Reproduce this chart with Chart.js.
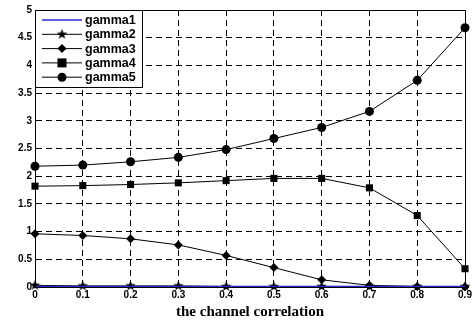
<!DOCTYPE html>
<html>
<head>
<meta charset="utf-8">
<script src="https://cdn.jsdelivr.net/npm/chart.js@4/dist/chart.umd.min.js"></script>
<style>
  html, body { margin: 0; padding: 0; background: #fff; }
  #wrap { width: 475px; height: 322px; }
</style>
</head>
<body>
<div id="wrap"><canvas id="chart" width="475" height="322"></canvas></div>
<script>
// channel correlation values on the x axis
const correlation = [0, 0.1, 0.2, 0.3, 0.4, 0.5, 0.6, 0.7, 0.8, 0.9];

// series
const gamma1 = [0.01, 0.01, 0.01, 0.01, 0.01, 0.01, 0.01, 0.01, 0.01, 0.01];
const gamma2 = [0.03, 0.02, 0.02, 0.02, 0.01, 0.01, 0.01, 0.01, 0.01, 0.01];
const gamma3 = [0.96, 0.93, 0.87, 0.76, 0.57, 0.35, 0.13, 0.03, 0.01, 0.0];
const gamma4 = [1.82, 1.83, 1.85, 1.88, 1.92, 1.96, 1.96, 1.79, 1.29, 0.33];
const gamma5 = [2.18, 2.2, 2.26, 2.34, 2.48, 2.68, 2.88, 3.17, 3.73, 4.68];

const seriesNames = ['gamma1', 'gamma2', 'gamma3', 'gamma4', 'gamma5'];

// filled five point star, used as a point style
function makeStar(size) {
    const c = document.createElement('canvas');
    c.width = size; c.height = size;
    const g = c.getContext('2d');
    const cx = size / 2, cy = size / 2, R = size / 2, r = R * 0.42;
    g.beginPath();
    for (let i = 0; i < 10; i++) {
        const rad = i % 2 === 0 ? R : r;
        const a = -Math.PI / 2 + i * Math.PI / 5;
        g.lineTo(cx + rad * Math.cos(a), cy + rad * Math.sin(a));
    }
    g.closePath();
    g.fillStyle = '#000';
    g.fill();
    return c;
}
const star = makeStar(11);

function pts(values) {
    return values.map((v, i) => ({ x: correlation[i], y: v }));
}

const styles = [
    { color: '#2b2bd6', pointStyle: false, radius: 0, width: 1.5 },
    { color: '#000', pointStyle: star, radius: 5, width: 1 },
    { color: '#000', pointStyle: 'rectRot', radius: 4.5, width: 1 },
    { color: '#000', pointStyle: 'rect', radius: 5, width: 1 },
    { color: '#000', pointStyle: 'circle', radius: 4.5, width: 1 }
];
const allSeries = [gamma1, gamma2, gamma3, gamma4, gamma5];

// gamma1 is drawn on top like in the figure
const datasets = allSeries.map((s, i) => ({
    label: seriesNames[i],
    data: pts(s),
    borderColor: styles[i].color,
    backgroundColor: styles[i].color,
    borderWidth: styles[i].width,
    pointStyle: styles[i].pointStyle,
    pointRadius: styles[i].radius,
    pointBorderWidth: 0,
    order: i === 0 ? 0 : 5 - i,
    clip: false
}));

const tickFont = { family: '"Liberation Sans", Arial, sans-serif', size: 10, weight: 'bold' };

// box around the plot and the legend in the upper left corner
const boxAndLegend = {
    id: 'boxAndLegend',
    afterDraw(chart) {
        const { ctx, chartArea: a } = chart;
        ctx.save();
        ctx.strokeStyle = '#000';
        ctx.lineWidth = 1;
        ctx.setLineDash([]);
        ctx.strokeRect(a.left + 0.5, a.top + 0.5, a.right - a.left, a.bottom - a.top);

        const lx = a.left, ly = a.top, lw = 107, lh = 77;
        ctx.fillStyle = '#fff';
        ctx.fillRect(lx, ly, lw, lh);
        ctx.strokeRect(lx + 0.5, ly + 0.5, lw, lh);
        ctx.font = 'bold 12.5px "Liberation Sans", Arial, sans-serif';
        ctx.textBaseline = 'middle';
        seriesNames.forEach((name, i) => {
            const y = ly + 10 + i * 14.3;
            ctx.strokeStyle = styles[i].color;
            ctx.lineWidth = styles[i].width;
            ctx.beginPath();
            ctx.moveTo(lx + 7, y);
            ctx.lineTo(lx + 47, y);
            ctx.stroke();
            const mx = lx + 27;
            ctx.fillStyle = '#000';
            if (i === 1) {
                ctx.drawImage(star, mx - 5.5, y - 5.5);
            } else if (i === 2) {
                ctx.beginPath();
                ctx.moveTo(mx, y - 4.5); ctx.lineTo(mx + 4.5, y);
                ctx.lineTo(mx, y + 4.5); ctx.lineTo(mx - 4.5, y);
                ctx.closePath(); ctx.fill();
            } else if (i === 3) {
                ctx.fillRect(mx - 4.5, y - 4.5, 9, 9);
            } else if (i === 4) {
                ctx.beginPath();
                ctx.arc(mx, y, 4.5, 0, Math.PI * 2);
                ctx.fill();
            }
            ctx.fillStyle = '#000';
            ctx.fillText(name, lx + 50, y + 0.5);
        });
        ctx.restore();
    }
};

new Chart(document.getElementById('chart'), {
    type: 'line',
    data: { datasets },
    options: {
        responsive: false,
        animation: false,
        layout: { padding: { left: 0, right: 10, top: 10, bottom: 1 } },
        plugins: { legend: { display: false }, tooltip: { enabled: false } },
        scales: {
            x: {
                type: 'linear',
                min: 0, max: 0.9,
                ticks: {
                    stepSize: 0.1,
                    color: '#000',
                    padding: 2,
                    font: tickFont,
                    callback: v => String(Math.round(v * 10) / 10)
                },
                grid: { color: '#000', lineWidth: 1, tickLength: 0 },
                border: { display: true, color: '#000', dash: [6, 4] },
                title: {
                    display: true,
                    text: 'the channel correlation',
                    color: '#000',
                    padding: { top: 0, bottom: 0 },
                    font: { family: '"Liberation Serif", "Times New Roman", serif', size: 15, weight: 'bold' }
                },
                afterFit(axis) { axis.height = 34; }
            },
            y: {
                min: 0, max: 5,
                ticks: {
                    stepSize: 0.5,
                    color: '#000',
                    padding: 3,
                    font: tickFont,
                    callback: v => String(Math.round(v * 10) / 10)
                },
                grid: { color: '#000', lineWidth: 1, tickLength: 0 },
                border: { display: true, color: '#000', dash: [6, 4] },
                afterFit(axis) { axis.width = 35; }
            }
        }
    },
    plugins: [boxAndLegend]
});
</script>
</body>
</html>
